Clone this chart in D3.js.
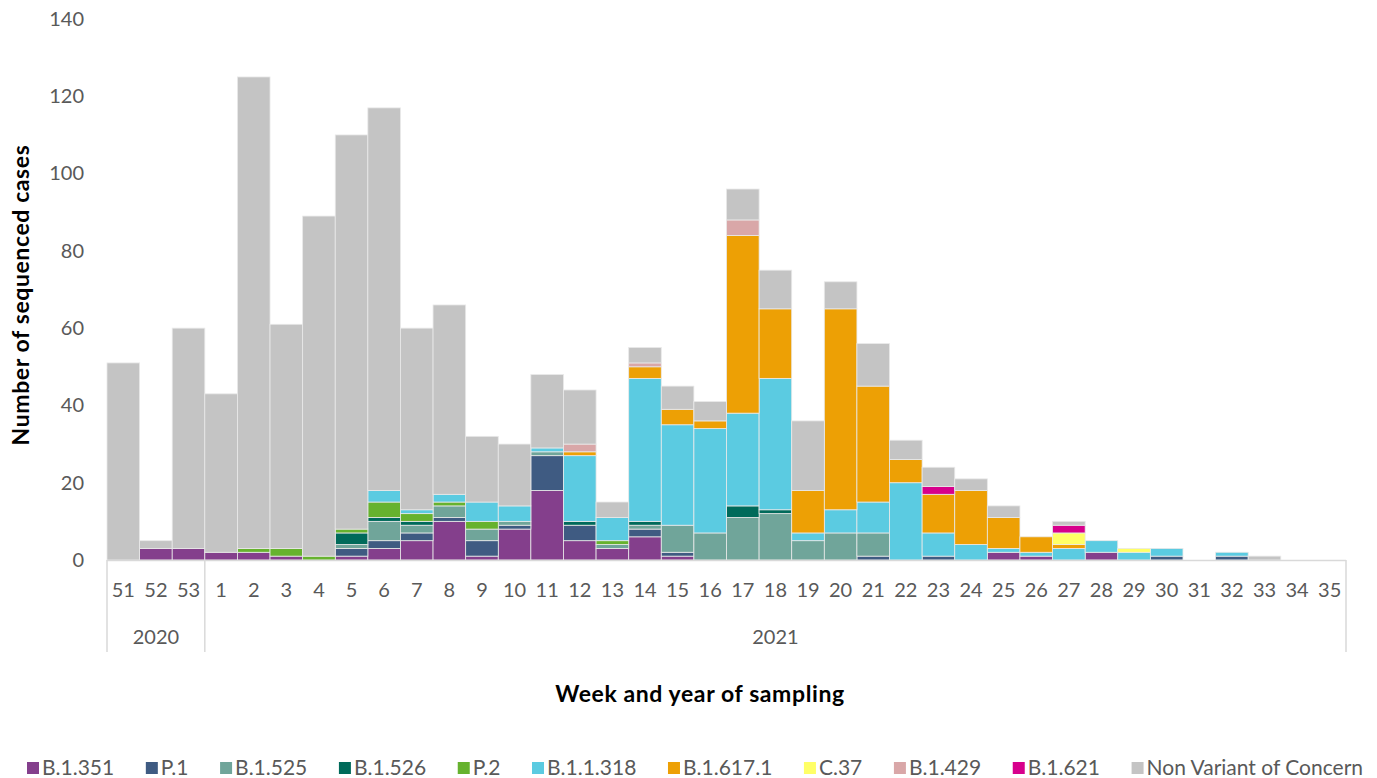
<!DOCTYPE html>
<html><head><meta charset="utf-8">
<script src="https://cdn.jsdelivr.net/npm/d3@7"></script>
<style>body{margin:0;background:#fff}svg{display:block}</style>
</head><body><svg id="c" width="1377" height="778"></svg>
<script>
const weeks = ["51","52","53","1","2","3","4","5","6","7","8","9","10","11","12","13","14","15","16","17","18","19","20","21","22","23","24","25","26","27","28","29","30","31","32","33","34","35"];
const years = [{label:"2020", from:0, to:3},{label:"2021", from:3, to:38}];
const seriesNames = ["B.1.351","P.1","B.1.525","B.1.526","P.2","B.1.1.318","B.1.617.1","C.37","B.1.429","B.1.621","Non Variant of Concern"];
const seriesColors = ["#843F8C","#3F5B82","#70A59A","#006A5A","#66B22E","#5BCBE1","#EDA005","#FFFF66","#D9A7A8","#D7008C","#C4C4C4"];
//                 51 52 53  1  2  3  4  5  6  7  8  9 10 11 12 13 14 15 16 17 18 19 20 21 22 23 24 25 26 27 28 29 30 31 32 33 34 35
const B1351   = [ 0, 3, 3, 2, 2, 1, 0, 1, 3, 5,10, 1, 8,18, 5, 3, 6, 1, 0, 0, 0, 0, 0, 0, 0, 0, 0, 2, 1, 0, 2, 0, 0, 0, 0, 0, 0, 0];
const P1      = [ 0, 0, 0, 0, 0, 0, 0, 2, 2, 2, 1, 4, 1, 9, 4, 0, 2, 1, 0, 0, 0, 0, 0, 1, 0, 1, 0, 0, 0, 0, 0, 0, 1, 0, 1, 0, 0, 0];
const B1525   = [ 0, 0, 0, 0, 0, 0, 0, 1, 5, 2, 3, 3, 1, 1, 0, 1, 1, 7, 7,11,12, 5, 7, 6, 0, 0, 0, 0, 0, 0, 0, 0, 0, 0, 0, 0, 0, 0];
const B1526   = [ 0, 0, 0, 0, 0, 0, 0, 3, 1, 1, 0, 0, 0, 0, 1, 0, 1, 0, 0, 3, 1, 0, 0, 0, 0, 0, 0, 0, 0, 0, 0, 0, 0, 0, 0, 0, 0, 0];
const P2      = [ 0, 0, 0, 0, 1, 2, 1, 1, 4, 2, 1, 2, 0, 0, 0, 1, 0, 0, 0, 0, 0, 0, 0, 0, 0, 0, 0, 0, 0, 0, 0, 0, 0, 0, 0, 0, 0, 0];
const B11318  = [ 0, 0, 0, 0, 0, 0, 0, 0, 3, 1, 2, 5, 4, 1,17, 6,37,26,27,24,34, 2, 6, 8,20, 6, 4, 1, 1, 3, 3, 2, 2, 0, 1, 0, 0, 0];
const B16171  = [ 0, 0, 0, 0, 0, 0, 0, 0, 0, 0, 0, 0, 0, 0, 1, 0, 3, 4, 2,46,18,11,52,30, 6,10,14, 8, 4, 1, 0, 0, 0, 0, 0, 0, 0, 0];
const C37     = [ 0, 0, 0, 0, 0, 0, 0, 0, 0, 0, 0, 0, 0, 0, 0, 0, 0, 0, 0, 0, 0, 0, 0, 0, 0, 0, 0, 0, 0, 3, 0, 1, 0, 0, 0, 0, 0, 0];
const B1429   = [ 0, 0, 0, 0, 0, 0, 0, 0, 0, 0, 0, 0, 0, 0, 2, 0, 1, 0, 0, 4, 0, 0, 0, 0, 0, 0, 0, 0, 0, 0, 0, 0, 0, 0, 0, 0, 0, 0];
const B1621   = [ 0, 0, 0, 0, 0, 0, 0, 0, 0, 0, 0, 0, 0, 0, 0, 0, 0, 0, 0, 0, 0, 0, 0, 0, 0, 2, 0, 0, 0, 2, 0, 0, 0, 0, 0, 0, 0, 0];
const NonVOC  = [51, 2,57,41,122,58,88,102,99,47,49,17,16,19,14, 4, 4, 6, 5, 8,10,18, 7,11, 5, 5, 3, 3, 0, 1, 0, 0, 0, 0, 0, 1, 0, 0];
const yTicks = [0,20,40,60,80,100,120,140];

const seriesValues = [B1351,P1,B1525,B1526,P2,B11318,B16171,C37,B1429,B1621,NonVOC];
const table = weeks.map((w,i)=>{const o={week:w}; seriesNames.forEach((s,j)=>o[s]=seriesValues[j][i]); return o;});

const FONT = "Lato, 'Open Sans', sans-serif";
const svg = d3.select("#c");
const mLeft = 107, mRight = 1346, mTop = 19, mBottom = 560;
const x = d3.scaleBand().domain(weeks).range([mLeft,mRight]).paddingInner(0).paddingOuter(0);
const y = d3.scaleLinear().domain([0,140]).range([mBottom,mTop]);

const stack = d3.stack().keys(seriesNames)(table);
svg.append("g").selectAll("g").data(stack).join("g")
  .attr("fill",(d,i)=>seriesColors[i])
  .selectAll("rect").data(d=>d.filter(p=>p[1]-p[0]>0)).join("rect")
  .attr("x",d=>x(d.data.week)).attr("width",x.bandwidth())
  .attr("y",d=>y(d[1])).attr("height",d=>y(d[0])-y(d[1]))
  .attr("stroke","#e9e9e9").attr("stroke-width",0.8);

// y axis labels
const ya = svg.append("g").attr("transform",`translate(${mLeft},0)`)
  .call(d3.axisLeft(y).tickValues(yTicks).tickSize(0).tickPadding(23));
ya.select(".domain").remove();
ya.selectAll("text").attr("font-family",FONT).attr("font-size",20).attr("fill","#595959");

// x axis baseline
svg.append("line").attr("x1",mLeft).attr("x2",mRight).attr("y1",mBottom+0.5).attr("y2",mBottom+0.5).attr("stroke","#d9d9d9").attr("stroke-width",1.5);
const xa = svg.append("g").attr("transform",`translate(0,${mBottom})`)
  .call(d3.axisBottom(x).tickSize(0).tickPadding(23));
xa.select(".domain").remove();
xa.selectAll("text").attr("font-family",FONT).attr("font-size",20).attr("fill","#595959");

// group separators
const sepX = [mLeft, x(weeks[3]), mRight];
svg.selectAll(".sep").data(sepX).join("line")
  .attr("x1",d=>d).attr("x2",d=>d).attr("y1",mBottom).attr("y2",652)
  .attr("stroke","#d9d9d9").attr("stroke-width",1.5);
svg.selectAll(".yr").data(years).join("text")
  .attr("x",d=>(x(weeks[d.from]) + (d.to<weeks.length? x(weeks[d.to]) : mRight))/2)
  .attr("y",644).attr("text-anchor","middle")
  .attr("font-family",FONT).attr("font-size",20).attr("fill","#595959").text(d=>d.label);

// axis titles
svg.append("text").attr("x",700).attr("y",702).attr("text-anchor","middle")
  .attr("font-family",FONT).attr("font-weight","bold").attr("font-size",23).attr("letter-spacing",0.6).attr("fill","#000")
  .text("Week and year of sampling");
svg.append("text").attr("transform","translate(29,295) rotate(-90)").attr("text-anchor","middle")
  .attr("font-family",FONT).attr("font-weight","bold").attr("font-size",23).attr("letter-spacing",0.6).attr("fill","#000")
  .text("Number of sequenced cases");

// legend
const lg = svg.append("g").attr("transform","translate(0,775)");
const itemG = seriesNames.map((n,i)=>{
  const g = lg.append("g");
  g.append("rect").attr("width",12).attr("height",12).attr("y",-13).attr("fill",seriesColors[i]);
  const t = g.append("text").attr("x",15).attr("y",0).attr("font-family",FONT).attr("font-size",21).attr("fill","#595959").text(n);
  return {g, w: 15 + t.node().getComputedTextLength()};
});
const sumW = d3.sum(itemG, d=>d.w);
const gap = (1363 - 27 - sumW)/(itemG.length-1);
let cx = 27;
itemG.forEach(d=>{ d.g.attr("transform",`translate(${cx},0)`); cx += d.w + gap; });
</script></body></html>
